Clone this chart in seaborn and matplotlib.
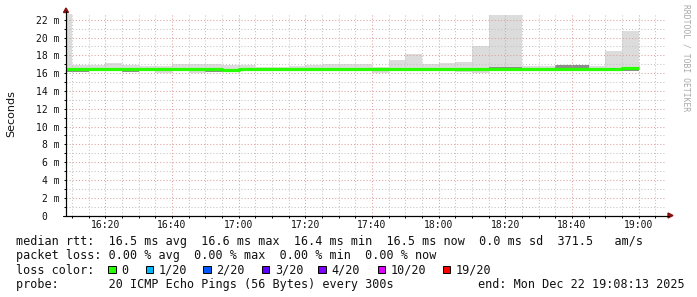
import numpy as np
import pandas as pd
import matplotlib
matplotlib.use("Agg")
import matplotlib.pyplot as plt
from matplotlib.patches import Polygon, Rectangle
import seaborn as sns

# ---------------- data ----------------
# bins of 5 minutes, start time in minutes after 16:00 (16:05 ... 18:55)
bin_start = list(range(5, 180, 5))
bin_width = 5

smoke_max = [23.5, 16.88, 16.88, 17.17, 16.88, 16.80, 16.80, 16.99, 16.99, 16.99,
             16.88, 16.93, 16.74, 16.74, 16.80, 16.90, 17.04, 17.04, 17.04, 16.74,
             17.50, 18.17, 17.04, 17.19, 17.30, 19.07, 22.57, 22.57, 16.80, 16.80,
             16.88, 16.88, 16.85, 18.50, 20.70]
smoke_min = [16.16, 16.16, 16.35, 16.30, 16.16, 16.35, 16.04, 16.30, 16.04, 16.16,
             16.25, 16.20, 16.25, 16.30, 16.35, 16.30, 16.20, 16.35, 16.25, 16.06,
             16.30, 16.40, 16.25, 16.30, 16.15, 16.04, 16.30, 16.30, 16.35, 16.30,
             16.25, 16.25, 16.35, 16.30, 16.30]
core_lo = [16.16, 16.16, 16.40, 16.40, 16.16, 16.40, 16.40, 16.40, 16.40, 16.16,
           16.30, 16.40, 16.40, 16.40, 16.40, 16.40, 16.40, 16.40, 16.35, 16.35,
           16.40, 16.40, 16.35, 16.40, 16.40, 16.40, 16.40, 16.40, 16.40, 16.40,
           16.30, 16.40, 16.40, 16.40, 16.25]
core_hi = [16.60, 16.60, 16.60, 16.60, 16.60, 16.60, 16.60, 16.60, 16.60, 16.60,
           16.50, 16.60, 16.60, 16.60, 16.60, 16.60, 16.60, 16.60, 16.50, 16.50,
           16.60, 16.60, 16.50, 16.60, 16.60, 16.60, 16.70, 16.70, 16.60, 16.60,
           16.88, 16.88, 16.60, 16.60, 16.70]
median = [16.50, 16.50, 16.50, 16.50, 16.50, 16.50, 16.50, 16.50, 16.50, 16.50,
          16.40, 16.50, 16.50, 16.50, 16.50, 16.50, 16.50, 16.50, 16.42, 16.42,
          16.50, 16.50, 16.42, 16.50, 16.50, 16.50, 16.50, 16.50, 16.50, 16.50,
          16.50, 16.50, 16.50, 16.50, 16.58]
loss = [0] * 35

loss_levels = ["0", "1/20", "2/20", "3/20", "4/20", "10/20", "19/20"]
loss_values = [0, 1, 2, 3, 4, 10, 19]
loss_colors = ["#26ff00", "#00b8ff", "#0059ff", "#5e00ff", "#7e00ff", "#dd00ff", "#ff0000"]

x_tick_minutes = [20, 40, 60, 80, 100, 120, 140, 160, 180]
x_tick_labels = ["16:20", "16:40", "17:00", "17:20", "17:40", "18:00", "18:20", "18:40", "19:00"]
y_ticks = [0, 2, 4, 6, 8, 10, 12, 14, 16, 18, 20, 22]

rtt_avg, rtt_max, rtt_min, rtt_now, rtt_sd, am_s = 16.5, 16.6, 16.4, 16.5, 0.0, 371.5
loss_avg, loss_max, loss_min, loss_now = 0.00, 0.00, 0.00, 0.00
probe_text = "20 ICMP Echo Pings (56 Bytes) every 300s"
end_text = "end: Mon Dec 22 19:08:13 2025"

x_start, x_end = 8 + 13 / 60, 188 + 13 / 60
y_top = 22.7

# ---------------- figure ----------------
sns.set_theme(style="white")
plt.rcParams["font.family"] = ["DejaVu Sans Mono", "DejaVu Sans"]
W, H = 697, 297
fig = plt.figure(figsize=(W / 100, H / 100), dpi=100)
fig.patch.set_facecolor("white")


def fx(px):
    return px / W


def fy(py):
    return 1 - py / H


ax = fig.add_axes([fx(66), fy(215.5), 600 / W, 202 / H])
ax.set_facecolor("white")

# smoke
ax.bar(bin_start, np.array(smoke_max) - np.array(smoke_min), bottom=smoke_min,
       width=bin_width, align="edge", color="#dcdcdc", linewidth=0, zorder=1)
ax.bar(bin_start, np.array(core_hi) - np.array(core_lo), bottom=core_lo,
       width=bin_width, align="edge", color="#8c8c8c", linewidth=0, zorder=1.2)

# median line coloured by loss
cmap = dict(zip(loss_values, loss_colors))
df = pd.DataFrame({"t": bin_start + [bin_start[-1] + bin_width],
                   "rtt": median + [median[-1]]})
seg_colors = [cmap[l] for l in loss]
i = 0
while i < len(seg_colors):
    j = i
    while j + 1 < len(seg_colors) and seg_colors[j + 1] == seg_colors[i]:
        j += 1
    sub = df.iloc[i:j + 2]
    sns.lineplot(data=sub, x="t", y="rtt", ax=ax, color=seg_colors[i],
                 drawstyle="steps-post", linewidth=2.3, estimator=None,
                 solid_capstyle="butt", zorder=3)
    i = j + 1

ax.set_xlim(x_start, x_end)
ax.set_ylim(0, y_top)
ax.set_xlabel("")
ax.set_ylabel("")

ax.set_xticks(x_tick_minutes)
ax.set_xticklabels(x_tick_labels)
ax.set_xticks(np.arange(10, 190, 5), minor=True)
ax.set_yticks(y_ticks)
ax.set_yticklabels([f"{v} m" if v else "0  " for v in y_ticks])
ax.set_yticks(np.arange(1, 23, 1), minor=True)

ax.set_axisbelow(False)
ax.grid(which="major", color="#e0a0a0", linestyle=(0, (1, 2)), linewidth=0.75)
ax.grid(which="minor", color="#c4c4c4", linestyle=(0, (1, 2)), linewidth=0.75)

ax.tick_params(which="both", direction="out", length=1.6, width=0.7, color="black",
               bottom=True, left=True, labelsize=7, labelcolor="#111111")
ax.tick_params(axis="x", pad=2.0)
ax.tick_params(axis="y", pad=3.0)
for lab in ax.get_xticklabels() + ax.get_yticklabels():
    lab.set_fontfamily("DejaVu Sans Mono")

for s in ["top", "right"]:
    ax.spines[s].set_visible(False)
for s in ["left", "bottom"]:
    ax.spines[s].set_color("black")
    ax.spines[s].set_linewidth(0.8)
    ax.spines[s].set_zorder(4)

# axis extensions and arrows
fig.add_artist(plt.Line2D([fx(66), fx(66)], [fy(215.5), fy(11)], color="black", lw=0.8))
fig.add_artist(plt.Line2D([fx(63), fx(669)], [fy(215.5), fy(215.5)], color="black", lw=0.8))
fig.add_artist(Polygon([[fx(63.5), fy(12.5)], [fx(68.5), fy(12.5)], [fx(66), fy(8)]],
                       closed=True, color="#8b1010", transform=fig.transFigure))
fig.add_artist(Polygon([[fx(668), fy(213)], [fx(668), fy(218)], [fx(673), fy(215.5)]],
                       closed=True, color="#8b1010", transform=fig.transFigure))

# axis title and watermark
fig.text(fx(11), fy(114), "Seconds", rotation=90, ha="center", va="center",
         fontsize=8, family="DejaVu Sans", color="#111111")
fig.text(fx(686), fy(4), "RRDTOOL / TOBI OETIKER", rotation=270, ha="center", va="top",
         fontsize=5.8, family="DejaVu Sans Mono", color="#a8a8a8")

# legend block
fs = 8.45
kw = dict(fontsize=fs, family="DejaVu Sans Mono", color="#111111", va="baseline", ha="left")
line1 = (f"median rtt:  {rtt_avg:.1f} ms avg  {rtt_max:.1f} ms max  {rtt_min:.1f} ms min  "
         f"{rtt_now:.1f} ms now  {rtt_sd:.1f} ms sd  {am_s:.1f}   am/s")
line2 = (f"packet loss: {loss_avg:.2f} % avg  {loss_max:.2f} % max  {loss_min:.2f} % min  "
         f"{loss_now:.2f} % now")
fig.text(fx(16), fy(245), line1, **kw)
fig.text(fx(16), fy(259.4), line2, **kw)
fig.text(fx(16), fy(273.6), "loss color:", **kw)
sq_x = [108.3, 145.7, 203, 261.7, 318, 377.7, 442.7]
for sx, lab, col in zip(sq_x, loss_levels, loss_colors):
    fig.add_artist(Rectangle((fx(sx), fy(273)), 7.5 / W, 7.5 / H, facecolor=col,
                             edgecolor="black", linewidth=0.7, transform=fig.transFigure))
    fig.text(fx(sx + 13), fy(273.6), lab, **kw)
fig.text(fx(16), fy(288.2), "probe:       " + probe_text, **kw)
fig.text(fx(478), fy(288.2), end_text, **kw)

fig.savefig("out.png", dpi=100, facecolor="white")
